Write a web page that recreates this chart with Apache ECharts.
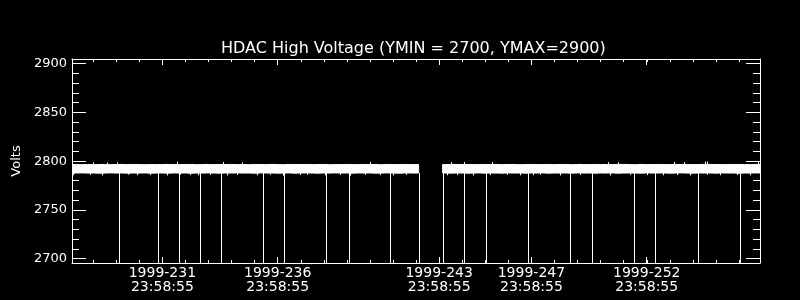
<!DOCTYPE html>
<html><head><meta charset="utf-8">
<script src="https://cdn.jsdelivr.net/npm/echarts@6/dist/echarts.min.js"></script>
<style>html,body{margin:0;padding:0;background:#000;}#c{width:800px;height:300px;}</style>
</head><body><div id="c"></div>
<script>
const titleText = 'HDAC High Voltage (YMIN = 2700, YMAX=2900)';
const yAxisName = 'Volts';
const tickYear = 1999;
const tickDoy = [231, 236, 243, 247, 252];
const tickClock = '23:58:55';
const xMinorDays = [229,230,231,232,233,234,235,236,237,238,239,240,241,242,243,244,245,246,247,248,249,250,251,252,253,254,255,256,257];
const yMajorTicks = [2700, 2750, 2800, 2850, 2900];
const yMinorTicks = [2710,2720,2730,2740,2760,2770,2780,2790,2810,2820,2830,2840,2860,2870,2880,2890];
const xRange = [228.08, 257.91];
const yRange = [2695.6, 2904.8];

// segment before the data gap: upper / lower envelope of the noisy signal
const segADays = [228,228.25,228.5,228.75,229,229.25,229.5,229.75,230,230.25,230.5,230.75,231,231.25,231.5,231.75,232,232.25,232.5,232.75,233,233.25,233.5,233.75,234,234.25,234.5,234.75,235,235.25,235.5,235.75,236,236.25,236.5,236.75,237,237.25,237.5,237.75,238,238.25,238.5,238.75,239,239.25,239.5,239.75,240,240.25,240.5,240.75,241,241.25,241.5,241.75,242,242.25,242.5,242.75,243,243.11];
const segAHigh = [2796.6,2796.7,2796.5,2796.6,2796.4,2796.6,2796.7,2796.5,2796.6,2796.7,
 2796.5,2796.7,2796.6,2796.4,2796.6,2796.5,2796.6,2796.7,2796.5,2796.6,
 2796.6,2796.7,2796.4,2796.6,2796.7,2796.5,2796.6,2796.6,2796.7,2796.5,
 2796.6,2796.4,2796.7,2796.6,2796.5,2796.7,2796.6,2796.4,2796.7,2796.5,
 2796.6,2796.7,2796.5,2796.6,2796.7,2796.4,2796.6,2796.5,2796.7,2796.6,
 2796.5,2796.7,2796.6,2796.6,2796.4,2796.7,2796.5,2796.6,2796.7,2796.5,
 2796.6,2796.5];
const segALow = [2787.7,2787.9,2788.0,2787.8,2787.9,2787.7,2787.8,2788.0,2787.8,2787.9,
 2787.7,2787.9,2787.8,2788.0,2787.7,2787.8,2787.9,2787.7,2788.0,2787.8,
 2787.9,2787.7,2787.9,2787.8,2788.0,2787.8,2787.7,2787.9,2787.8,2788.0,
 2787.8,2787.9,2787.7,2788.0,2787.8,2787.9,2787.7,2787.8,2788.0,2787.7,
 2787.9,2788.0,2787.8,2787.7,2787.9,2787.8,2788.0,2787.8,2787.9,2787.7,
 2787.9,2787.8,2788.0,2787.7,2787.8,2788.0,2787.8,2787.7,2787.9,2787.9,
 2787.8,2787.9];
// segment after the data gap
const segBDays = [244.15,244.25,244.5,244.75,245,245.25,245.5,245.75,246,246.25,246.5,246.75,247,247.25,247.5,247.75,248,248.25,248.5,248.75,249,249.25,249.5,249.75,250,250.25,250.5,250.75,251,251.25,251.5,251.75,252,252.25,252.5,252.75,253,253.25,253.5,253.75,254,254.25,254.5,254.75,255,255.25,255.5,255.75,256,256.25,256.5,256.75,257,257.25,257.5,257.75,258];
const segBHigh = [2796.6,2796.5,2796.7,2796.7,2796.6,2796.6,2796.5,2796.7,2796.6,2796.6,
 2796.7,2796.5,2796.6,2796.7,2796.4,2796.6,2796.7,2796.5,2796.6,2796.7,
 2796.5,2796.7,2796.6,2796.4,2796.7,2796.6,2796.5,2796.7,2796.6,2796.6,
 2796.5,2796.7,2796.7,2796.6,2796.4,2796.7,2796.5,2796.6,2796.7,2796.5,
 2796.6,2796.7,2796.6,2796.7,2796.5,2796.6,2796.8,2796.7,2796.6,2796.5,
 2796.7,2796.6,2796.7,2796.5,2796.6,2796.7,2796.8];
const segBLow = [2787.8,2787.9,2787.7,2787.9,2787.8,2787.7,2787.8,2788.0,2787.7,2787.9,
 2787.8,2787.7,2788.0,2787.8,2787.9,2787.7,2787.9,2787.8,2788.0,2787.7,
 2787.9,2787.8,2787.9,2787.7,2788.0,2787.8,2787.9,2787.7,2787.9,2787.8,
 2788.0,2787.7,2787.8,2787.9,2787.8,2787.7,2788.0,2787.8,2787.9,2787.9,
 2787.7,2787.8,2788.0,2787.8,2787.7,2787.9,2787.8,2787.9,2787.7,2788.0,
 2787.8,2787.9,2787.7,2787.8,2787.9,2788.0,2787.8];
// isolated noise spikes above the band
const upSpikeDays = [228.99,229.60,230.03,232.63,234.63,235.45,241.00,244.51,245.08,246.29,251.32,251.75,254.18,254.61,255.52,255.60,257.82];
const upSpikeVolts = [2798.8,2798.6,2798.9,2799.4,2799.2,2798.7,2799.3,2799.0,2799.2,2799.1,2799.0,2798.9,2799.1,2799.0,2799.8,2799.6,2799.4];
// isolated noise spikes below the band
const downSpikeDays = [228.12,228.86,229.38,230.51,230.90,231.46,232.20,232.76,233.20,233.54,234.06,234.80,235.23,236.10,236.66,237.23,237.97,238.27,239.05,239.70,240.13,240.78,241.43,241.98,242.58,244.34,244.77,245.47,246.20,246.94,247.50,248.07,248.37,249.24,250.11,250.63,251.41,252.27,253.01,253.70,254.31,254.87,255.61,256.18,256.92,257.48];
const downSpikeVolts = [2785.6,2786.0,2785.4,2786.2,2785.7,2785.9,2785.3,2786.1,2785.8,2785.5,2786.0,2785.4,2785.9,2785.6,2786.1,2785.3,2785.8,2786.0,2785.5,2785.9,2785.2,2786.1,2785.7,2785.4,2786.0,2785.6,2785.9,2785.3,2785.8,2786.0,2785.5,2785.7,2786.1,2785.4,2785.9,2785.6,2785.3,2786.0,2785.7,2785.5,2785.9,2785.4,2786.1,2785.6,2785.8,2785.5];
const spikeBase = 2792;
// voltage dropouts (off scale)
const dropDays = [230.106,231.814,232.707,233.617,234.527,236.378,237.288,239.109,240.075,241.883,243.110,244.150,245.060,246.014,247.834,249.655,250.609,252.429,253.339,255.203,257.024];
const dropFrom = 2788;
const dropTo = 0;

const FONT = 'DejaVu Sans';
const WHITE = '#ffffff';
const segments = [
  {days:segADays, low:segALow, high:segAHigh},
  {days:segBDays, low:segBLow, high:segBHigh}
];
const clockParts = tickClock.split(':').map(Number);
const dayFrac = (clockParts[0]*3600 + clockParts[1]*60 + clockParts[2]) / 86400;
const tickVals = tickDoy.map(d => d + dayFrac);
function xLabel(v){
  for (let i=0;i<tickVals.length;i++){
    if (Math.abs(tickVals[i]-v) < 1e-6) return tickYear + '-' + tickDoy[i] + '\n' + tickClock;
  }
  return '';
}
function xAx(pos, ticks, len, withLabel, withLine){
  return {type:'value', gridIndex:0, position:pos, min:xRange[0], max:xRange[1],
    axisLine:{show:withLine, lineStyle:{color:WHITE, width:1}},
    axisTick:{show:true, inside:true, length:len, customValues:ticks, lineStyle:{color:WHITE, width:1}},
    axisLabel:withLabel ? {show:true, customValues:ticks, formatter:xLabel, color:WHITE, fontSize:14, lineHeight:14, margin:3, fontFamily:FONT} : {show:false},
    splitLine:{show:false}};
}
function yAx(pos, ticks, len, withLabel, withLine, name){
  const a = {type:'value', gridIndex:0, position:pos, min:yRange[0], max:yRange[1],
    axisLine:{show:withLine, lineStyle:{color:WHITE, width:1}},
    axisTick:{show:true, inside:true, length:len, customValues:ticks, lineStyle:{color:WHITE, width:1}},
    axisLabel:withLabel ? {show:true, customValues:ticks, formatter:v => String(v), color:WHITE, fontSize:13, margin:5, fontFamily:FONT} : {show:false},
    splitLine:{show:false}};
  if (name){ a.name = name; a.nameLocation='middle'; a.nameGap=44; a.nameRotate=90;
    a.nameTextStyle={color:WHITE, fontSize:13, fontFamily:FONT}; }
  return a;
}
function gridClip(params){
  const cs = params.coordSys;
  return {type:'rect', shape:{x:cs.x, y:cs.y, width:cs.width, height:cs.height}};
}
function renderBand(params, api){
  const s = segments[api.value(2)];
  const pts = [];
  for (let i=0;i<s.days.length;i++) pts.push(api.coord([s.days[i], s.high[i]]));
  for (let i=s.days.length-1;i>=0;i--) pts.push(api.coord([s.days[i], s.low[i]]));
  return {type:'polygon', shape:{points:pts}, style:{fill:WHITE, stroke:WHITE, lineWidth:1}, clipPath:gridClip(params)};
}
function renderVLine(params, api){
  const cs = params.coordSys;
  const p1 = api.coord([api.value(0), api.value(1)]);
  const p2 = api.coord([api.value(0), api.value(2)]);
  const x = Math.round(p1[0]) + 0.5;
  const yTop = Math.max(Math.min(p1[1], p2[1]), cs.y);
  const yBot = Math.min(Math.max(p1[1], p2[1]), cs.y + cs.height);
  return {type:'line', shape:{x1:x, y1:yTop, x2:x, y2:yBot}, style:{stroke:WHITE, lineWidth:1}};
}

const chart = echarts.init(document.getElementById('c'), null, {renderer:'canvas'});
chart.setOption({
  backgroundColor:'#000000',
  animation:false,
  title:{text:titleText, left:216, top:36, textStyle:{color:WHITE, fontSize:16, fontWeight:'normal', fontFamily:FONT}},
  grid:{left:72, right:40, top:59, bottom:37, containLabel:false},
  xAxis:[
    xAx('bottom', tickVals, 6, true, true),
    xAx('bottom', xMinorDays, 3, false, false),
    xAx('top', tickVals, 6, false, true),
    xAx('top', xMinorDays, 3, false, false)
  ],
  yAxis:[
    yAx('left', yMajorTicks, 14, true, true, yAxisName),
    yAx('left', yMinorTicks, 7, false, false),
    yAx('right', yMajorTicks, 14, false, true),
    yAx('right', yMinorTicks, 7, false, false)
  ],
  series:[
    {type:'custom', xAxisIndex:0, yAxisIndex:0, silent:true,
     data: segments.map((s,i)=>[s.days[0], s.low[0], i]), encode:{x:0, y:1},
     renderItem: renderBand},
    {type:'custom', xAxisIndex:0, yAxisIndex:0, silent:true,
     data: upSpikeDays.map((d,i)=>[d, spikeBase, upSpikeVolts[i]]), encode:{x:0, y:1},
     renderItem: renderVLine},
    {type:'custom', xAxisIndex:0, yAxisIndex:0, silent:true,
     data: downSpikeDays.map((d,i)=>[d, spikeBase, downSpikeVolts[i]]), encode:{x:0, y:1},
     renderItem: renderVLine},
    {type:'custom', xAxisIndex:0, yAxisIndex:0, silent:true,
     data: dropDays.map(d=>[d, dropFrom, dropTo]), encode:{x:0, y:1},
     renderItem: renderVLine}
  ]
});
</script></body></html>
